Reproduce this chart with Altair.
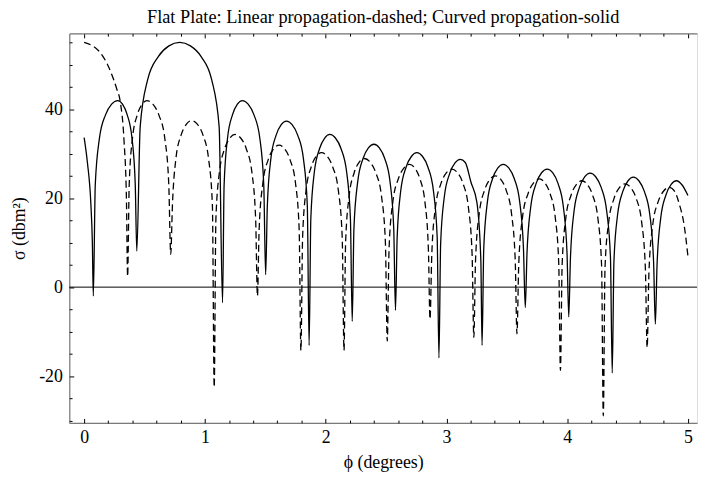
import altair as alt
import pandas as pd

# ---- data ----
solid_x = [0.0, 0.027, 0.055, 0.068, 0.076,
           0.092, 0.1265, 0.177, 0.2275, 0.278, 0.3175, 0.357, 0.3965, 0.4234, 0.436,
           0.464, 0.525, 0.614, 0.702, 0.791, 0.88, 0.969, 1.057, 1.118, 1.146,
           1.159, 1.187, 1.228, 1.269, 1.31, 1.358, 1.4065, 1.455, 1.4875, 1.503,
           1.517, 1.546, 1.589, 1.632, 1.675, 1.722, 1.769, 1.816, 1.848, 1.863,
           1.877, 1.906, 1.949, 1.992, 2.035, 2.081, 2.1275, 2.174, 2.205, 2.22,
           2.234, 2.265, 2.3095, 2.354, 2.40, 2.4445, 2.489, 2.5335, 2.5637, 2.578,
           2.592, 2.622, 2.6665, 2.711, 2.755, 2.801, 2.8465, 2.892, 2.9234, 2.938,
           2.952, 2.982, 3.0265, 3.071, 3.115, 3.156, 3.204, 3.252, 3.285, 3.295,
           3.309, 3.339, 3.3825, 3.426, 3.47, 3.516, 3.5615, 3.607, 3.638, 3.653,
           3.667, 3.698, 3.743, 3.788, 3.835, 3.8795, 3.924, 3.9685, 3.9988, 4.013,
           4.027, 4.057, 4.1015, 4.146, 4.19, 4.236, 4.2815, 4.327, 4.3584, 4.373,
           4.387, 4.417, 4.4605, 4.504, 4.548, 4.5935, 4.639, 4.6845, 4.7154, 4.73,
           4.744, 4.774, 4.8175, 4.861, 4.905, 4.95, 5.0]
solid_y = [33.6, 28.0, 19.0, 10.0, -2.0,
           22.9, 33.4, 38.7, 41.1, 41.9, 41.1, 38.7, 33.4, 22.9, 8.1,
           36.0, 46.5, 51.8, 54.2, 55.0, 54.2, 51.8, 46.5, 36.0, -3.5,
           22.9, 33.4, 38.7, 41.1, 41.9, 41.1, 38.7, 33.4, 22.9, 2.8,
           18.3, 28.8, 34.1, 36.5, 37.3, 36.5, 34.1, 28.8, 18.3, -13.1,
           15.3, 25.8, 31.1, 33.5, 34.3, 33.5, 31.1, 25.8, 15.3, -7.7,
           13.1, 23.6, 28.9, 31.3, 32.1, 31.3, 28.9, 23.6, 13.1, -5.2,
           11.2, 21.7, 27.0, 29.4, 30.2, 29.4, 27.0, 21.7, 11.2, -15.9,
           9.7, 20.2, 25.5, 27.9, 28.7, 28.0, 23.5, 19.1, 6.0, -13.1,
           8.6, 19.1, 24.4, 26.8, 27.6, 26.8, 24.4, 19.1, 8.6, -4.6,
           7.5, 18.0, 23.3, 25.7, 26.5, 25.7, 23.3, 18.0, 7.5, -6.7,
           6.6, 17.1, 22.4, 24.8, 25.6, 24.8, 22.4, 17.1, 6.6, -19.3,
           5.7, 16.2, 21.5, 23.9, 24.7, 23.9, 21.5, 16.2, 5.7, -8.3,
           4.9, 15.4, 20.7, 23.1, 23.9, 23.0, 20.6]

dashed_x = [0.0, 0.136, 0.218, 0.27, 0.30, 0.33, 0.35, 0.36,
            0.373, 0.40, 0.44, 0.48, 0.52, 0.569, 0.6185, 0.668, 0.701, 0.717,
            0.731, 0.76, 0.8035, 0.847, 0.89, 0.937, 0.9835, 1.03, 1.062, 1.077,
            1.091, 1.12, 1.1635, 1.207, 1.25, 1.296, 1.3425, 1.389, 1.4202, 1.435,
            1.449, 1.48, 1.525, 1.57, 1.614, 1.659, 1.704, 1.75, 1.7806, 1.795,
            1.809, 1.8375, 1.88, 1.9225, 1.965, 2.012, 2.0585, 2.105, 2.137, 2.152,
            2.165, 2.194, 2.236, 2.278, 2.32, 2.3675, 2.415, 2.4625, 2.4948, 2.51,
            2.525, 2.556, 2.6025, 2.649, 2.695, 2.737, 2.7795, 2.822, 2.8505, 2.864,
            2.879, 2.9095, 2.955, 3.0005, 3.046, 3.0915, 3.137, 3.1815, 3.2124, 3.227,
            3.241, 3.2715, 3.316, 3.3605, 3.405, 3.45, 3.4945, 3.539, 3.5697, 3.584,
            3.599, 3.6305, 3.677, 3.7235, 3.77, 3.8135, 3.857, 3.9005, 3.9301, 3.944,
            3.958, 3.988, 4.0325, 4.077, 4.121, 4.1655, 4.21, 4.2545, 4.2848, 4.299,
            4.313, 4.344, 4.389, 4.434, 4.479, 4.525, 4.5705, 4.616, 4.6474, 4.662,
            4.677, 4.708, 4.7535, 4.799, 4.845, 4.89, 4.93, 4.968, 5.0]
dashed_y = [55.0, 52.6, 48.5, 44.5, 41.5, 33.0, 20.0, 2.4,
            22.9, 33.4, 38.7, 41.1, 41.9, 41.1, 38.7, 33.4, 22.9, 7.4,
            18.4, 28.9, 34.2, 36.6, 37.4, 36.6, 34.2, 28.9, 18.4, -22.5,
            15.3, 25.8, 31.1, 33.5, 34.3, 33.5, 31.1, 25.8, 15.3, -2.0,
            12.9, 23.4, 28.7, 31.1, 31.9, 31.1, 28.7, 23.4, 12.9, -14.2,
            11.2, 21.7, 27.0, 29.4, 30.2, 29.4, 27.0, 21.7, 11.2, -14.2,
            9.9, 20.4, 25.7, 28.1, 28.9, 28.1, 25.7, 20.4, 9.9, -12.1,
            8.6, 19.1, 24.4, 26.8, 27.6, 26.8, 24.4, 19.1, 8.6, -7.2,
            7.5, 18.0, 23.3, 25.7, 26.5, 25.7, 23.3, 18.0, 7.5, -11.3,
            6.0, 16.5, 21.8, 24.2, 25.0, 24.2, 21.8, 16.5, 6.0, -10.5,
            5.3, 15.8, 21.1, 23.5, 24.3, 23.5, 21.1, 15.8, 5.3, -18.7,
            4.9, 15.4, 20.7, 23.1, 23.9, 23.1, 20.7, 15.4, 4.9, -28.9,
            4.2, 14.7, 20.0, 22.4, 23.2, 22.4, 20.0, 14.7, 4.2, -13.6,
            3.4, 13.9, 19.2, 21.6, 22.4, 21.5, 18.5, 14.0, 6.9]

x_major = [0, 1, 2, 3, 4, 5]
x_minor = [round(0.2 * i, 1) for i in range(26) if i % 5 != 0]
y_major = [-20, 0, 20, 40]
y_minor = [v for v in range(-30, 60, 5) if v % 20 != 0]

title_text = "Flat Plate: Linear propagation-dashed; Curved propagation-solid"
x_title = "\u03d5 (degrees)"
y_title = "\u03c3 (dbm\u00b2)"

X_DOMAIN = [-0.123, 5.075]
Y_DOMAIN = [-30.5, 57.0]
W, H = 635, 394
FONT = "Liberation Serif"
FRAME = "#7a7a7a"
LBL = 18
TTL = 18

solid = pd.DataFrame({"x": solid_x, "y": solid_y, "i": range(len(solid_x))})
dashed = pd.DataFrame({"x": dashed_x, "y": dashed_y, "i": range(len(dashed_x))})
zero = pd.DataFrame({"y": [0]})

xs = alt.Scale(domain=X_DOMAIN, nice=False, zero=False)
ys = alt.Scale(domain=Y_DOMAIN, nice=False, zero=False)


def no_axis_common():
    return dict(grid=False, labels=False, title=None, domain=False)


axis_x_main = alt.Axis(values=x_major, orient="bottom", ticks=False, grid=False,
                       domainColor=FRAME, domainWidth=1.2, labelFont=FONT, labelFontSize=LBL,
                       labelColor="black", labelPadding=6, labelExpr="'' + datum.value",
                       title=x_title, titleFont=FONT,
                       titleFontSize=TTL, titleFontWeight="normal", titleColor="black",
                       titlePadding=7)
axis_y_main = alt.Axis(values=y_major, orient="left", ticks=False, grid=False,
                       domainColor=FRAME, domainWidth=1.2, labelFont=FONT, labelFontSize=LBL,
                       labelColor="black", labelPadding=7, labelExpr="'' + datum.value",
                       title=y_title, titleFont=FONT,
                       titleFontSize=TTL, titleFontWeight="normal", titleColor="black",
                       titlePadding=10)

solid_layer = alt.Chart(solid).mark_line(color="black", strokeWidth=1.3,
                                         interpolate="monotone").encode(
    x=alt.X("x:Q", scale=xs, axis=axis_x_main),
    y=alt.Y("y:Q", scale=ys, axis=axis_y_main),
    order="i:Q",
)

dashed_layer = alt.Chart(dashed).mark_line(color="black", strokeWidth=1.3,
                                           strokeDash=[7, 4], interpolate="monotone").encode(
    x=alt.X("x:Q", scale=xs, axis=alt.Axis(values=x_major, orient="top", offset=-H,
                                           tickSize=4.5, tickColor="black", tickWidth=1,
                                           **no_axis_common())),
    y=alt.Y("y:Q", scale=ys, axis=alt.Axis(values=y_major, orient="right", offset=-W,
                                           tickSize=4.5, tickColor="black", tickWidth=1,
                                           **no_axis_common())),
    order="i:Q",
)

zero_layer = alt.Chart(zero).mark_rule(color="black", strokeWidth=1).encode(
    y=alt.Y("y:Q", scale=ys, axis=alt.Axis(values=y_minor, orient="right", offset=-W,
                                           tickSize=2.8, tickColor="black", tickWidth=1,
                                           **no_axis_common())),
)

minor_bottom = alt.Chart(zero).mark_point(opacity=0).encode(
    x=alt.X("xv:Q", scale=xs, axis=alt.Axis(values=x_minor, orient="top", offset=-H,
                                            tickSize=2.8, tickColor="black", tickWidth=1,
                                            **no_axis_common())),
    y=alt.Y("y:Q", scale=ys, axis=None),
).transform_calculate(xv="0")

top_major = alt.Chart(zero).mark_point(opacity=0).encode(
    x=alt.X("xv:Q", scale=xs, axis=alt.Axis(values=x_major, orient="bottom", offset=-H,
                                            tickSize=4.5, tickColor="black", tickWidth=1,
                                            grid=False, labels=False, title=None,
                                            domain=True, domainColor=FRAME, domainWidth=1.2)),
    y=alt.Y("y:Q", scale=ys, axis=None),
).transform_calculate(xv="0")

top_minor = alt.Chart(zero).mark_point(opacity=0).encode(
    x=alt.X("xv:Q", scale=xs, axis=alt.Axis(values=x_minor, orient="bottom", offset=-H,
                                            tickSize=2.8, tickColor="black", tickWidth=1,
                                            **no_axis_common())),
    y=alt.Y("y:Q", scale=ys, axis=None),
).transform_calculate(xv="0")

chart = alt.layer(
    solid_layer, dashed_layer, zero_layer, minor_bottom, top_major, top_minor
).resolve_axis(x="independent", y="independent").properties(
    width=W, height=H,
    title=alt.TitleParams(title_text, font=FONT, fontSize=18.5, fontWeight="normal",
                          color="black", anchor="middle", offset=7),
    autosize=alt.AutoSizeParams(type="none"),
    padding={"left": 62, "top": 23, "right": 1, "bottom": 49},
).configure_view(stroke=None).configure(background="white")

chart.save("out.html", embed_options={"renderer": "svg", "actions": False})
